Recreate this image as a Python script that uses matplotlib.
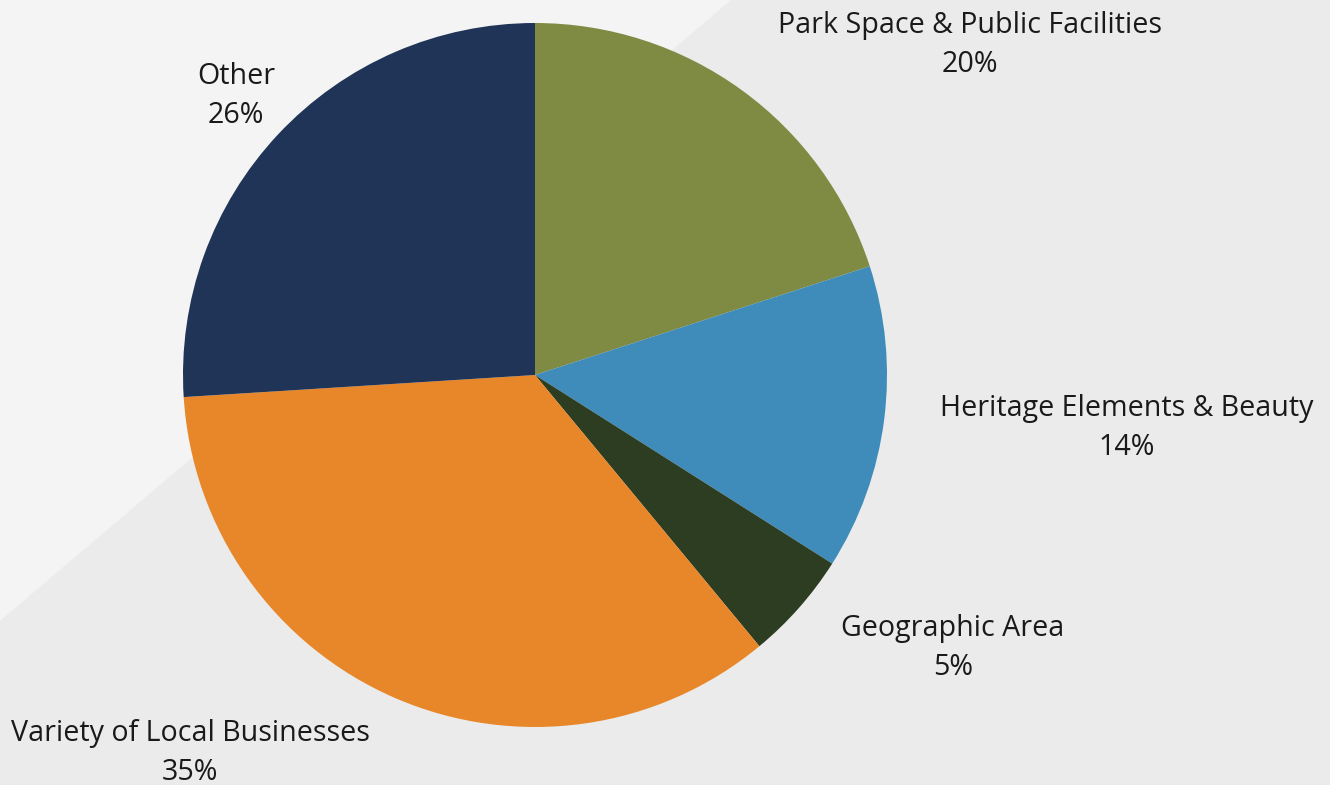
import matplotlib.pyplot as plt
from matplotlib.patches import Polygon

plt.rcParams['font.family'] = ['Open Sans', 'DejaVu Sans']

# share of responses per theme, clockwise from 12 o'clock
categories = [
    "Park Space & Public Facilities",
    "Heritage Elements & Beauty",
    "Geographic Area",
    "Variety of Local Businesses",
    "Other",
]
shares = [20, 14, 5, 35, 26]
colors = ["#7f8b43", "#3f8cba", "#2d3d22", "#e8872a", "#203457"]

# label block centres in pixel space (origin top-left)
label_xy = [(970, 45), (1127, 428), (953, 648), (190, 753), (236, 96)]

W, H = 1330, 785
fig = plt.figure(figsize=(W / 100, H / 100), dpi=100)
ax = fig.add_axes([0, 0, 1, 1])
ax.set_xlim(0, W)
ax.set_ylim(0, H)
ax.set_aspect("equal")
ax.axis("off")

# two-tone background split by a diagonal
ax.add_patch(Polygon([(0, 0), (W, 0), (W, H), (0, H)], color="#ebebeb", zorder=0))
ax.add_patch(Polygon([(0, H), (730, H), (0, H - 620)], color="#f4f4f4", zorder=1))

ax.pie(shares, colors=colors, startangle=90, counterclock=False,
       center=(535, H - 375), radius=352, frame=True,
       wedgeprops=dict(linewidth=0, zorder=2))
ax.set_xlim(0, W)
ax.set_ylim(0, H)
ax.axis("off")

for name, val, (x, y) in zip(categories, shares, label_xy):
    ax.text(x, H - y, f"{name}\n{val}%", ha="center", va="center",
            fontsize=20.6, color="#1a1a1a", linespacing=1.45, zorder=3)

fig.savefig("out.png", dpi=100)
